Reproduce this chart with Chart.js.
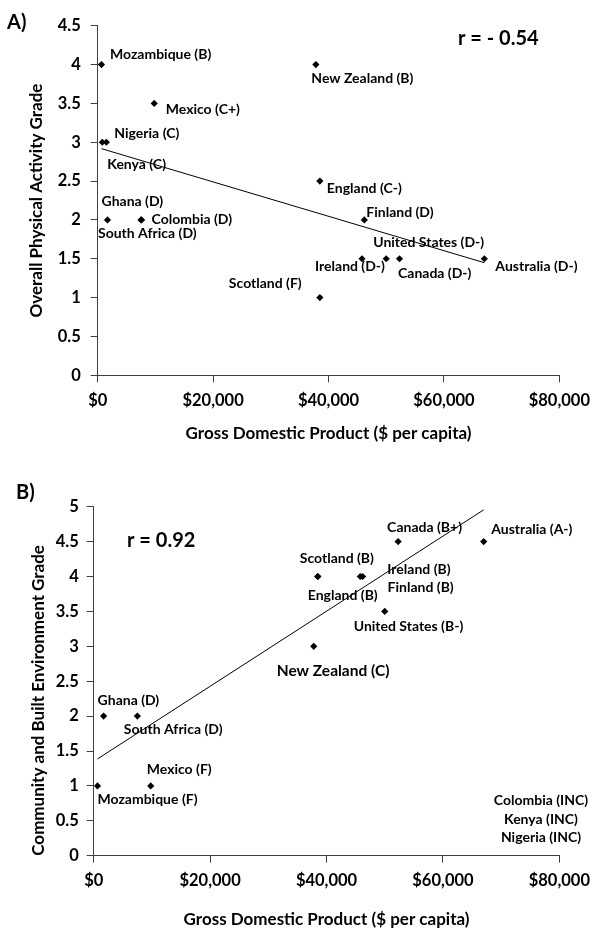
<!DOCTYPE html>
<html>
<head>
<meta charset="utf-8">
<script src="https://cdn.jsdelivr.net/npm/chart.js@4.4.1/dist/chart.umd.min.js"></script>
<style>
  html, body { margin: 0; padding: 0; background: #fff; }
  #wrapA { position: absolute; left: 0; top: 0; width: 598px; height: 460px; }
  #wrapB { position: absolute; left: 0; top: 460px; width: 598px; height: 469px; }
</style>
</head>
<body>
<div id="wrapA"><canvas id="chartA"></canvas></div>
<div id="wrapB"><canvas id="chartB"></canvas></div>
<script>
// data
const countries = ['Mozambique', 'Mexico', 'Kenya', 'Nigeria', 'Ghana', 'South Africa', 'Colombia',
  'New Zealand', 'England', 'Scotland', 'Finland', 'Ireland', 'United States', 'Canada', 'Australia'];
const gdp = [650, 9800, 800, 1500, 1700, 7500, 7600, 37800, 38500, 38500, 46200, 45800, 50000, 52300, 67000];
const paGrade = [4, 3.5, 3, 3, 2, 2, 2, 4, 2.5, 1, 2, 1.5, 1.5, 1.5, 1.5];
const paLetter = ['B', 'C+', 'C', 'C', 'D', 'D', 'D', 'B', 'C-', 'F', 'D', 'D-', 'D-', 'D-', 'D-'];
const envGrade = [1, 1, null, null, 2, 2, null, 3, 4, 4, 4, 4, 3.5, 4.5, 4.5];
const envLetter = ['F', 'F', 'INC', 'INC', 'D', 'D', 'INC', 'C', 'B', 'B', 'B', 'B', 'B-', 'B+', 'A-'];
const xTicks = [0, 20000, 40000, 60000, 80000];

// label placement (pixel offsets from each point)
const offsetsA = [[8.5, -10], [11.5, 6], [5, 22], [8, -9], [-6, -18.5], [-43, 14], [10, 0],
  [-4.5, 14], [7, 7], [-91, -14], [2, -7], [-47, 7.5], [-13, -16.5], [-1.5, 15], [11, 7.5]];
const offsetsB = [[0, 14], [-4, -16.5], null, null, [-6, -15.5], [-13.5, 13], null,
  [-37, 25], [-10, 19], [-18, -18], [25, 10.5], [27, -7], [-31, 15], [-11, -14], [7.5, -12]];

const FONT = 'Lato, "Open Sans", sans-serif';

function trendPoints(xs, ys) {
  const pts = xs.map((x, i) => [x, ys[i]]).filter(p => p[1] !== null);
  const n = pts.length;
  const mx = pts.reduce((s, p) => s + p[0], 0) / n;
  const my = pts.reduce((s, p) => s + p[1], 0) / n;
  let sxy = 0, sxx = 0;
  pts.forEach(p => { sxy += (p[0] - mx) * (p[1] - my); sxx += (p[0] - mx) * (p[0] - mx); });
  const b = sxy / sxx, a = my - b * mx;
  const lo = Math.min(...pts.map(p => p[0])), hi = Math.max(...pts.map(p => p[0]));
  return [{x: lo, y: a + b * lo}, {x: hi, y: a + b * hi}];
}

const pointLabels = {
  id: 'pointLabels',
  afterDatasetsDraw(chart, args, opts) {
    const ctx = chart.ctx;
    const meta = chart.getDatasetMeta(0);
    const ds = chart.data.datasets[0].data;
    ctx.save();
    ctx.fillStyle = '#000';
    ctx.textBaseline = 'middle';
    ctx.textAlign = 'left';
    meta.data.forEach((el, i) => {
      const d = ds[i];
      const off = opts.offsets[d.idx];
      ctx.font = 'bold ' + (d.name === 'New Zealand' && opts.bigNZ ? 15.5 : 14) + 'px ' + FONT;
      ctx.fillText(d.name + ' (' + d.letter + ')', el.x + off[0], el.y + off[1]);
    });
    (opts.texts || []).forEach(t => {
      ctx.font = 'bold ' + t.size + 'px ' + FONT;
      ctx.textAlign = t.align || 'left';
      ctx.fillText(t.text, t.x, t.y);
    });
    ctx.restore();
  }
};

function makeChart(id, grades, letters, cfg) {
  const pts = [];
  countries.forEach((c, i) => {
    if (grades[i] !== null) pts.push({x: gdp[i], y: grades[i], name: c, letter: letters[i], idx: i});
  });
  return new Chart(document.getElementById(id), {
    type: 'scatter',
    data: {
      datasets: [{
        data: pts,
        pointStyle: 'rectRot',
        pointRadius: 3.6,
        backgroundColor: '#000',
        borderColor: '#000',
        borderWidth: 0
      }, {
        data: trendPoints(gdp, grades),
        showLine: true,
        borderColor: '#000',
        borderWidth: 1,
        pointRadius: 0
      }]
    },
    options: {
      responsive: true,
      maintainAspectRatio: false,
      animation: false,
      layout: { padding: { top: cfg.top, right: cfg.right, bottom: 0, left: 0 } },
      plugins: {
        legend: { display: false },
        tooltip: { enabled: false },
        pointLabels: { offsets: cfg.offsets, texts: cfg.texts, bigNZ: cfg.bigNZ }
      },
      scales: {
        x: {
          type: 'linear',
          min: 0, max: 80000,
          afterBuildTicks: s => { s.ticks = xTicks.map(v => ({value: v})); },
          afterFit: s => { s.height = cfg.xHeight; },
          grid: { drawOnChartArea: false, tickLength: 7, color: '#404040' },
          border: { color: '#404040', width: 1 },
          ticks: {
            padding: 8,
            color: '#000',
            font: { family: FONT, size: 16.5, weight: 'bold' },
            callback: v => '$' + v.toLocaleString('en-US')
          },
          title: {
            display: true,
            text: 'Gross Domestic Product ($ per capita)',
            color: '#000',
            font: { family: FONT, size: 17, weight: 'bold', lineHeight: 1 },
            padding: { top: 0, bottom: cfg.xTitlePad }
          }
        },
        y: {
          min: 0, max: cfg.yMax,
          ticks: {
            stepSize: 0.5,
            padding: cfg.yTickPad,
            color: '#000',
            font: { family: FONT, size: 16.5, weight: 'bold' },
            callback: v => String(v)
          },
          afterFit: s => { s.width = cfg.yWidth; },
          grid: { drawOnChartArea: false, tickLength: 7, color: '#404040' },
          border: { color: '#404040', width: 1 },
          title: {
            display: true,
            text: cfg.yTitle,
            align: cfg.yTitleAlign || 'center',
            color: '#000',
            font: { family: FONT, size: cfg.yTitleSize, weight: 'bold', lineHeight: 1 },
            padding: { top: cfg.yTitlePad, bottom: 0 }
          }
        }
      }
    },
    plugins: [pointLabels]
  });
}

makeChart('chartA', paGrade, paLetter, {
  top: 25.7, right: 31.3, xHeight: 84.7, yWidth: 97.7, yMax: 4.5,
  xTitlePad: 18, yTickPad: 10, yTitlePad: 28.5, yTitleSize: 17,
  yTitle: 'Overall Physical Activity Grade',
  offsets: offsetsA,
  texts: [
    {text: 'A)', x: 7, y: 23, size: 20},
    {text: 'r = - 0.54', x: 458, y: 39, size: 20}
  ]
});

makeChart('chartB', envGrade, envLetter, {
  top: 46.7, right: 35.3, xHeight: 73.3, yWidth: 93.7, yMax: 5,
  xTitlePad: 0.5, yTickPad: 8, yTitlePad: 30, yTitleSize: 17, yTitleAlign: 'start',
  yTitle: 'Community and Built Environment Grade',
  offsets: offsetsB,
  bigNZ: true,
  texts: [
    {text: 'B)', x: 16, y: 33, size: 20},
    {text: 'r = 0.92', x: 127, y: 81, size: 20},
    {text: 'Colombia (INC)', x: 541, y: 340, size: 14, align: 'center'},
    {text: 'Kenya (INC)', x: 541, y: 359, size: 14, align: 'center'},
    {text: 'Nigeria (INC)', x: 541, y: 377.5, size: 14, align: 'center'}
  ]
});
</script>
</body>
</html>
